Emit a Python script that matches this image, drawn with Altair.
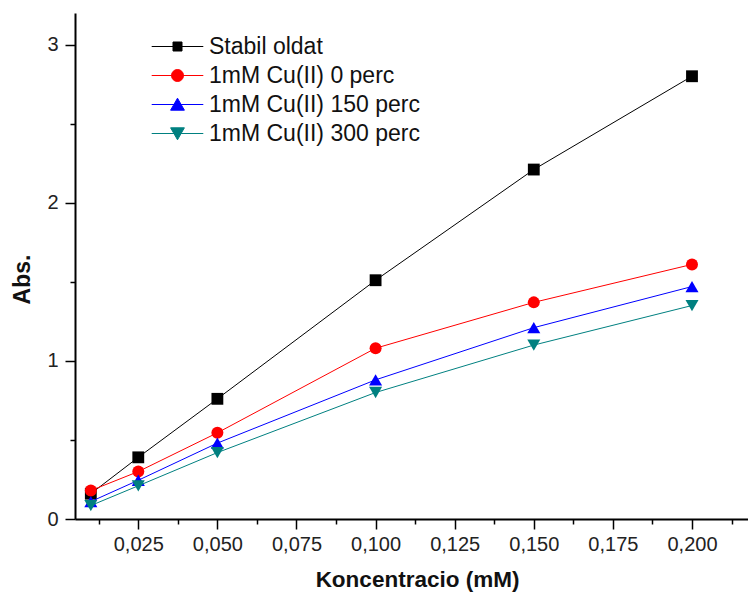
import altair as alt
import pandas as pd

# Absorbance vs. concentration for the stable solution and Cu(II)-treated samples
conc = [0.01, 0.025, 0.05, 0.1, 0.15, 0.2]
stabil = [0.16, 0.39, 0.76, 1.51, 2.21, 2.80]
cu_0 = [0.18, 0.30, 0.545, 1.08, 1.37, 1.61]
cu_150 = [0.11, 0.245, 0.48, 0.88, 1.21, 1.47]
cu_300 = [0.085, 0.21, 0.42, 0.80, 1.10, 1.35]

series_names = ["Stabil oldat", "1mM Cu(II) 0 perc", "1mM Cu(II) 150 perc", "1mM Cu(II) 300 perc"]
series_values = [stabil, cu_0, cu_150, cu_300]

x_major = [0.025, 0.05, 0.075, 0.1, 0.125, 0.15, 0.175, 0.2]
x_minor = [0.0125, 0.0375, 0.0625, 0.0875, 0.1125, 0.1375, 0.1625, 0.1875, 0.2125]
y_major = [0, 1, 2, 3]
y_minor = [0.5, 1.5, 2.5]

colors = ["#000000", "#ff0000", "#0000ff", "#008080"]
shapes = ["square", "circle", "triangle-up", "triangle-down"]
sizes = [140, 144, 170, 170]

# legend glyphs: a short line with the marker on it
legend_paths = [
    "M-4.3,0H4.3M-0.75,-0.75H0.75V0.75H-0.75Z",
    "M-4.3,0H4.3M-1,0A1 1 0 1 0 1,0A1 1 0 1 0 -1,0Z",
    "M-4.3,0H4.3M0,-1.05L1.15,0.95H-1.15Z",
    "M-4.3,0H4.3M0,1.05L1.15,-0.95H-1.15Z",
]

rows = []
for name, vals in zip(series_names, series_values):
    for c, v in zip(conc, vals):
        rows.append({"series": name, "conc": c, "abs": v})
df = pd.DataFrame(rows)

FONT = "Liberation Sans"
x_scale = alt.Scale(domain=[0.005, 0.2177], nice=False, zero=False)
y_scale = alt.Scale(domain=[0, 3.2], nice=False, zero=False)

x_axis = alt.Axis(
    orient="bottom", values=x_major, grid=False,
    labelExpr="replace(format(datum.value, '.3f'), '.', ',')",
    tickSize=10, tickWidth=1.5, tickColor="#000", domainWidth=2, domainColor="#000",
    labelFontSize=20, labelPadding=5, labelColor="#222", labelFont=FONT,
    title="Koncentracio (mM)", titleFontSize=22.5, titleFontWeight="bold", titleFont=FONT,
    titleColor="#111", titleX=342, titleY=67, titleBaseline="alphabetic", titleAlign="center",
)
y_axis = alt.Axis(
    orient="left", values=y_major, grid=False, format="d",
    tickSize=10, tickWidth=1.5, tickColor="#000", domainWidth=2, domainColor="#000",
    labelFontSize=20, labelPadding=7, labelColor="#222", labelFont=FONT,
    title="Abs.", titleFontSize=23, titleFontWeight="bold", titleFont=FONT,
    titleColor="#111", titleX=-53, titleY=266, titleBaseline="middle", titleAlign="center",
    titleAngle=270,
)

base = alt.Chart(df)
x_enc = alt.X("conc:Q", scale=x_scale, axis=x_axis)
y_enc = alt.Y("abs:Q", scale=y_scale, axis=y_axis)

data_layers = []
for name, col, shp, sz in zip(series_names, colors, shapes, sizes):
    sub = base.transform_filter(alt.datum.series == name)
    data_layers.append(
        sub.mark_line(color=col, strokeWidth=1).encode(x=x_enc, y=y_enc)
    )
    data_layers.append(
        sub.mark_point(shape=shp, filled=True, size=sz, color=col, opacity=1, strokeWidth=0)
        .encode(x=x_enc, y=y_enc)
    )

legend_spec = alt.Legend(
    orient="none", legendX=91, legendY=22, title=None, padding=0,
    labelFontSize=23, labelFont=FONT, labelColor="#111", labelOffset=20, labelLimit=0,
    symbolSize=144, symbolStrokeWidth=1, rowPadding=5,
)
legend_layer = base.transform_filter("false").mark_point(filled=True, opacity=1).encode(
    fill=alt.Fill("series:N", scale=alt.Scale(domain=series_names, range=colors), legend=legend_spec),
    stroke=alt.Stroke("series:N", scale=alt.Scale(domain=series_names, range=colors), legend=legend_spec),
    shape=alt.Shape("series:N", scale=alt.Scale(domain=series_names, range=legend_paths), legend=legend_spec),
)

main = alt.layer(*data_layers, legend_layer)

# second set of axes carrying the minor ticks
minor = base.transform_filter("false").mark_point().encode(
    x=alt.X("conc:Q", scale=x_scale, axis=alt.Axis(
        orient="bottom", values=x_minor, labels=False, domain=False, grid=False,
        tickSize=5, tickWidth=1.5, tickColor="#000", title=None)),
    y=alt.Y("abs:Q", scale=y_scale, axis=alt.Axis(
        orient="left", values=y_minor, labels=False, domain=False, grid=False,
        tickSize=5, tickWidth=1.5, tickColor="#000", title=None)),
)

chart = (
    alt.layer(main, minor)
    .resolve_axis(x="independent", y="independent")
    .properties(
        width=673, height=506,
        autosize=alt.AutoSizeParams(type="none"),
        padding={"left": 75, "top": 13, "right": 0, "bottom": 74},
        background="white",
    )
    .configure_view(stroke=None)
)

chart.save("out.html", embed_options={"renderer": "svg", "actions": False})
